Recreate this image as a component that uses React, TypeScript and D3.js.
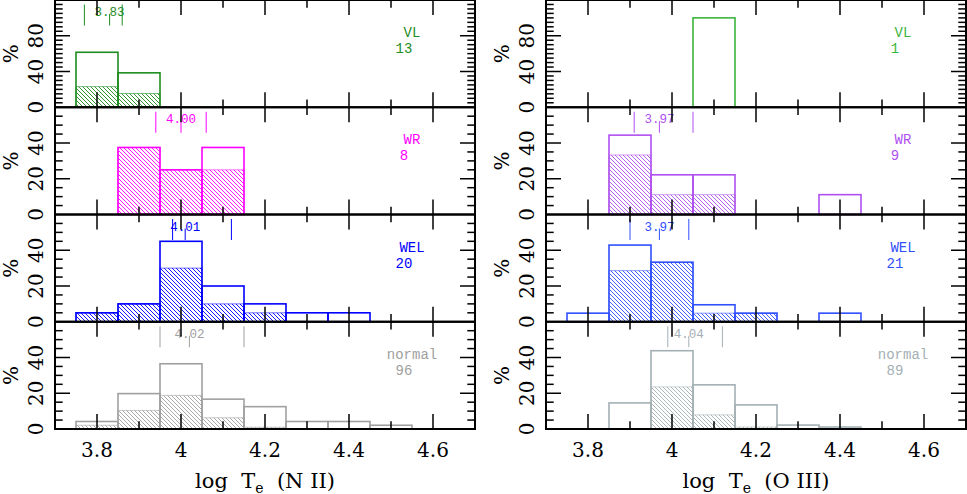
import * as d3 from "d3";

// bin left edges, bin width 0.1 dex
const binStarts = [3.75, 3.85, 3.95, 4.05, 4.15, 4.25, 4.35, 4.45];
const binWidth = 0.1;

// log Te (N II), percentages
const vlN2Total = [61.5, 38.5, 0, 0, 0, 0, 0, 0];
const vlN2Hatch = [23.1, 15.4, 0, 0, 0, 0, 0, 0];
const wrN2Total = [0, 37.5, 25, 37.5, 0, 0, 0, 0];
const wrN2Hatch = [0, 37.5, 25, 25, 0, 0, 0, 0];
const welN2Total = [5, 10, 45, 20, 10, 5, 5, 0];
const welN2Hatch = [5, 10, 30, 10, 5, 0, 0, 0];
const normN2Total = [4.2, 19.8, 36.5, 16.7, 12.5, 4.2, 4.2, 2.1];
const normN2Hatch = [2.1, 10.4, 18.8, 6.3, 1.0, 0, 0, 0];

// log Te (O III), percentages
const vlO3Total = [0, 0, 0, 100, 0, 0, 0, 0];
const vlO3Hatch = [0, 0, 0, 0, 0, 0, 0, 0];
const wrO3Total = [0, 44.4, 22.2, 22.2, 0, 0, 11.1, 0];
const wrO3Hatch = [0, 33.3, 11.1, 11.1, 0, 0, 0, 0];
const welO3Total = [4.8, 42.9, 33.3, 9.5, 4.8, 0, 4.8, 0];
const welO3Hatch = [0, 28.6, 33.3, 4.8, 4.8, 0, 0, 0];
const normO3Total = [0, 14.6, 43.8, 24.7, 13.5, 2.2, 1.1, 0];
const normO3Hatch = [0, 0, 23.6, 7.9, 1.1, 0, 0, 0];

// [low, mean, high] markers
const vlN2Marks = [3.77, 3.83, 3.86];
const wrN2Marks = [3.94, 4.0, 4.06];
const welN2Marks = [3.98, 4.01, 4.12];
const normN2Marks = [3.95, 4.02, 4.15];
const wrO3Marks = [3.91, 3.97, 4.05];
const welO3Marks = [3.9, 3.97, 4.04];
const normO3Marks = [3.99, 4.04, 4.12];

const classNames = ["VL", "WR", "WEL", "normal"];
const countsN2 = [13, 8, 20, 96];
const countsO3 = [1, 9, 21, 89];

const xTickLabels = [3.8, 4, 4.2, 4.4, 4.6];
const yLabelsTop = [0, 40, 80];
const yLabelsRest = [0, 20, 40];

const colorsN2 = ["#1e8c1e", "#ff00ff", "#0000ff", "#a0a0a0"];
const colorsO3 = ["#3cb43c", "#b050f0", "#3050ff", "#a4b0b4"];

interface Panel {
  total: number[];
  hatch: number[];
  marks: number[] | null;
}

const columns: { title: string; x0: number; colors: string[]; counts: number[]; panels: Panel[] }[] = [
  {
    title: "(N II)",
    x0: 55,
    colors: colorsN2,
    counts: countsN2,
    panels: [
      { total: vlN2Total, hatch: vlN2Hatch, marks: vlN2Marks },
      { total: wrN2Total, hatch: wrN2Hatch, marks: wrN2Marks },
      { total: welN2Total, hatch: welN2Hatch, marks: welN2Marks },
      { total: normN2Total, hatch: normN2Hatch, marks: normN2Marks },
    ],
  },
  {
    title: "(O III)",
    x0: 546,
    colors: colorsO3,
    counts: countsO3,
    panels: [
      { total: vlO3Total, hatch: vlO3Hatch, marks: null },
      { total: wrO3Total, hatch: wrO3Hatch, marks: wrO3Marks },
      { total: welO3Total, hatch: welO3Hatch, marks: welO3Marks },
      { total: normO3Total, hatch: normO3Hatch, marks: normO3Marks },
    ],
  },
];

const W = 967;
const H = 494;
const cw = 420;
const ph = 107.25;
const serif = "'DejaVu Serif', serif";
const mono = "'Liberation Mono', 'DejaVu Sans Mono', monospace";

function Column({ col, ci }: { col: (typeof columns)[number]; ci: number }) {
  const x = d3.scaleLinear().domain([3.7, 4.7]).range([col.x0, col.x0 + cw]);
  const xTicks = x.ticks(10).filter((t) => t > 3.71 && t < 4.69);
  const bottom = ph * 4;

  return (
    <g>
      {col.panels.map((p, pi) => {
        const top = pi * ph;
        const ymax = pi === 0 ? 120 : 60;
        const major = pi === 0 ? 40 : 20;
        const y = d3.scaleLinear().domain([0, ymax]).range([top + ph, top]);
        const color = col.colors[pi];
        const pid = `hatch-${ci}-${pi}`;
        const yTicks = d3.range(5, ymax, 5);
        const yLabels = pi === 0 ? yLabelsTop : yLabelsRest;
        return (
          <g key={pi}>
            <defs>
              <pattern id={pid} patternUnits="userSpaceOnUse" width={4} height={4}>
                <path
                  d="M-1,-1 L5,5 M-1,3 L1,5 M3,-1 L5,1"
                  stroke={color}
                  strokeWidth={0.9}
                />
              </pattern>
            </defs>
            {p.hatch.map((v, i) =>
              v > 0 ? (
                <rect
                  key={`h${i}`}
                  x={x(binStarts[i])}
                  y={y(v)}
                  width={x(binStarts[i] + binWidth) - x(binStarts[i])}
                  height={y(0) - y(v)}
                  fill={`url(#${pid})`}
                  stroke={color}
                  strokeOpacity={0.55}
                  strokeWidth={1}
                />
              ) : null
            )}
            {p.total.map((v, i) =>
              v > 0 ? (
                <rect
                  key={`t${i}`}
                  x={x(binStarts[i])}
                  y={y(v)}
                  width={x(binStarts[i] + binWidth) - x(binStarts[i])}
                  height={y(0) - y(v)}
                  fill="none"
                  stroke={color}
                  strokeWidth={1.6}
                />
              ) : null
            )}
            {p.marks && (
              <g stroke={color} strokeWidth={1}>
                <line x1={x(p.marks[0])} x2={x(p.marks[0])} y1={top + 4.5} y2={top + 25.5} />
                <line x1={x(p.marks[1])} x2={x(p.marks[1])} y1={top + 14} y2={top + 25.5} />
                <line x1={x(p.marks[2])} x2={x(p.marks[2])} y1={top + 4.5} y2={top + 25.5} />
              </g>
            )}
            {p.marks && (
              <text
                x={x(p.marks[1])}
                y={top + 16}
                textAnchor="middle"
                fontFamily={mono}
                fontSize={12.5}
                fill={color}
              >
                {p.marks[1].toFixed(2)}
              </text>
            )}
            <text x={col.x0 + 357} y={top + 37} textAnchor="middle" fontFamily={mono} fontSize={14} fill={color}>
              {classNames[pi]}
            </text>
            <text x={col.x0 + 349} y={top + 53} textAnchor="middle" fontFamily={mono} fontSize={14} fill={color}>
              {col.counts[pi]}
            </text>
            {/* frame ticks */}
            <g stroke="#000" strokeWidth={1.5}>
              {xTicks.map((t) => {
                const big = Math.round(t * 10) % 2 === 0;
                const len = big ? 15 : 7.7;
                return (
                  <g key={t}>
                    <line x1={x(t)} x2={x(t)} y1={top + ph} y2={top + ph - len} />
                    <line x1={x(t)} x2={x(t)} y1={top} y2={top + len} />
                  </g>
                );
              })}
              {yTicks.map((t) => {
                const len = t % major === 0 ? 15 : 7.7;
                return (
                  <g key={t}>
                    <line x1={col.x0} x2={col.x0 + len} y1={y(t)} y2={y(t)} />
                    <line x1={col.x0 + cw} x2={col.x0 + cw - len} y1={y(t)} y2={y(t)} />
                  </g>
                );
              })}
            </g>
            <rect x={col.x0} y={top} width={cw} height={ph} fill="none" stroke="#000" strokeWidth={2} />
            {yLabels.map((t) => (
              <text
                key={t}
                transform={`translate(${col.x0 - 12},${y(t)}) rotate(-90)`}
                textAnchor="middle"
                fontFamily={serif}
                fontSize={20}
                fill="#000"
              >
                {t}
              </text>
            ))}
            <text
              transform={`translate(${col.x0 - 37.5},${top + ph / 2}) rotate(-90)`}
              textAnchor="middle"
              fontFamily={serif}
              fontSize={20}
              fill="#000"
            >
              %
            </text>
          </g>
        );
      })}
      {xTickLabels.map((t) => (
        <text key={t} x={x(t)} y={456.5} textAnchor="middle" fontFamily={serif} fontSize={20} fill="#000">
          {t}
        </text>
      ))}
      <text
        x={col.x0 + cw / 2}
        y={bottom + 58.5}
        textAnchor="middle"
        fontFamily={serif}
        fontSize={21}
        fill="#000"
        style={{ whiteSpace: "pre" }}
      >
        {"log  T"}
        <tspan fontSize={14} dy={5}>e</tspan>
        <tspan dy={-5}>{"  " + col.title}</tspan>
      </text>
    </g>
  );
}

export default function App() {
  return (
    <div style={{ position: "absolute", left: 0, top: 0, background: "#fff" }}>
      <svg width={W} height={H} viewBox={`0 0 ${W} ${H}`} style={{ display: "block" }}>
        <rect width={W} height={H} fill="#fff" />
        {columns.map((c, i) => (
          <Column key={i} col={c} ci={i} />
        ))}
      </svg>
    </div>
  );
}
